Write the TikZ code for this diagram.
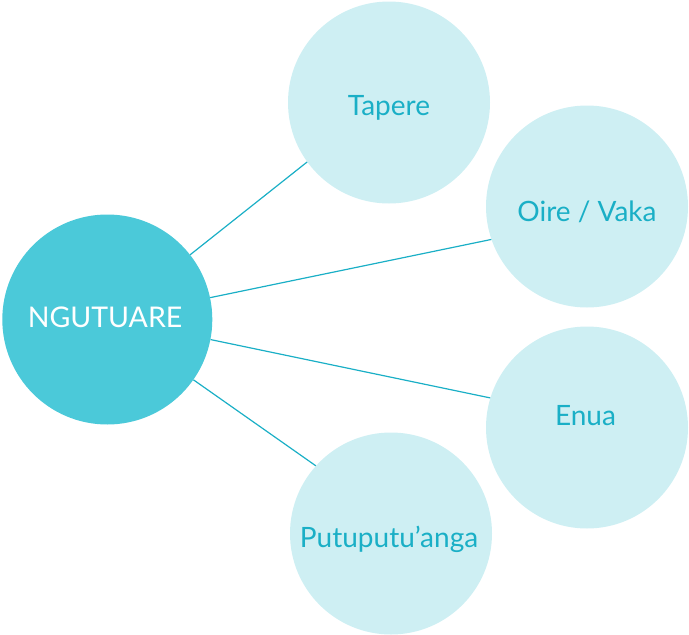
\documentclass[tikz,border=0pt]{standalone}
\usepackage{fontspec}
\setmainfont{Lato}
\definecolor{bigc}{HTML}{4BC9D9}
\definecolor{smallc}{HTML}{CEEFF3}
\definecolor{teal}{HTML}{1AAFC6}
\begin{document}
\begin{tikzpicture}[x=1pt,y=-1pt,
  big/.style={circle,fill=bigc,minimum size=210pt,inner sep=0pt},
  small/.style={circle,fill=smallc,minimum size=202pt,inner sep=0pt},
  bigtxt/.style={text=white,font=\fontsize{28.5}{30}\selectfont,inner sep=0pt,text height=20.5pt,text depth=0pt},
  smalltxt/.style={text=teal,font=\fontsize{28}{30}\selectfont,inner sep=0pt,text height=20pt,text depth=0pt},
  link/.style={draw=teal,line width=1.2pt}]
\useasboundingbox (0,0) rectangle (689,635);
\node[big] (ng) at (107.3,319.5) {};
\node[small] (ta) at (389,102.5) {};
\node[small] (oi) at (587,206.5) {};
\node[small] (en) at (587,427.5) {};
\node[small] (pu) at (391,533.5) {};
\node[bigtxt] (ngt) at (105,317) {NGUTUARE};
\node[smalltxt] (tat) at (389,105.7) {Tapere};
\node[smalltxt] (oit) at (587,211.7) {Oire / Vaka};
\node[smalltxt] (ent) at (585.5,415) {Enua};
\node[smalltxt] (put) at (389,537.7) {Putuputu’anga};
\draw[link] (ng.38.2) -- (ta.216.5);
\draw[link] (ng.12.1) -- (oi.199.7);
\draw[link] (ng.-11.1) -- (en.163);
\draw[link] (ng.-35.2) -- (pu.138.4);
\end{tikzpicture}
\end{document}
